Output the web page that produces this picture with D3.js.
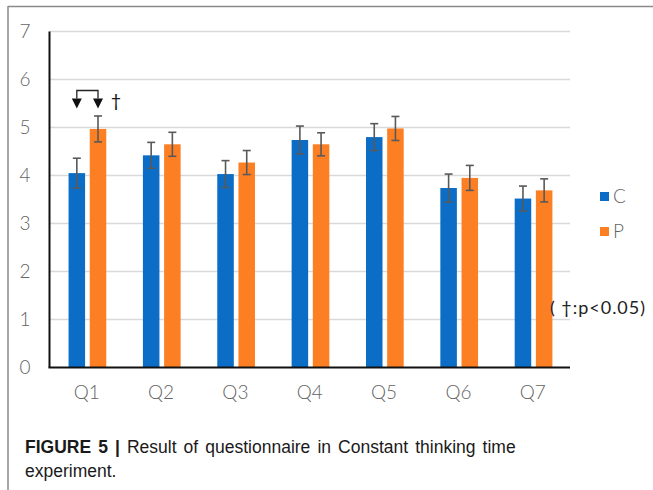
<!DOCTYPE html>
<html>
<head>
<meta charset="utf-8">
<script src="https://cdn.jsdelivr.net/npm/d3@7"></script>
<style>
  html, body { margin: 0; padding: 0; background: #fff; }
  svg { display: block; }
</style>
</head>
<body>
<svg id="chart" width="653" height="490"></svg>
<script>
// Questionnaire items and group means with error margins
const questions = ["Q1", "Q2", "Q3", "Q4", "Q5", "Q6", "Q7"];
const groups = ["C", "P"];
const meanC = [4.05, 4.42, 4.03, 4.74, 4.80, 3.74, 3.52];
const meanP = [4.97, 4.65, 4.27, 4.65, 4.98, 3.95, 3.69];
const errC = [0.31, 0.27, 0.28, 0.29, 0.28, 0.29, 0.26];
const errP = [0.27, 0.25, 0.25, 0.24, 0.25, 0.26, 0.24];
const yTicks = [0, 1, 2, 3, 4, 5, 6, 7];
const significant = ["Q1"];

const colors = { C: "#0b6dc6", P: "#fd7f24" };
const tickFont = "Lato, 'Noto Sans', sans-serif";

const svg = d3.select("#chart");

// Figure frame
svg.append("line").attr("x1", 8).attr("x2", 653).attr("y1", 6.5).attr("y2", 6.5)
  .attr("stroke", "#8a8a8a").attr("stroke-width", 1.5);
svg.append("line").attr("x1", 8).attr("x2", 8).attr("y1", 6).attr("y2", 490)
  .attr("stroke", "#8a8a8a").attr("stroke-width", 1.5);

const plotLeft = 49.5, plotRight = 570, plotTop = 31.5, plotBottom = 367.5;

const x = d3.scaleBand().domain(questions).range([plotLeft, plotRight]).padding(0);
const xg = d3.scaleBand().domain(groups).range([0, x.bandwidth()])
  .paddingInner(0.22).paddingOuter(0.865).align(0.52);
const y = d3.scaleLinear().domain([0, 7]).range([plotBottom, plotTop]);

// Gridlines
svg.append("g").selectAll("line").data(yTicks.filter(t => t > 0)).join("line")
  .attr("x1", plotLeft).attr("x2", plotRight)
  .attr("y1", d => y(d)).attr("y2", d => y(d))
  .attr("stroke", "#d9d9d9").attr("stroke-width", 1.5);

// Y axis labels
const yAxis = d3.axisLeft(y).tickValues(yTicks).tickFormat(d3.format("d"))
  .tickSize(0).tickPadding(19);
const gy = svg.append("g").attr("transform", `translate(${plotLeft},0)`).call(yAxis);
gy.select(".domain").remove();
gy.selectAll("text").attr("font-family", tickFont).attr("font-weight", 300)
  .attr("font-size", 19).attr("fill", "#646464");

// Bars
const rows = questions.map((q, i) => [
  { q, g: "C", v: meanC[i], e: errC[i] },
  { q, g: "P", v: meanP[i], e: errP[i] }
]).flat();

svg.append("g").selectAll("rect").data(rows).join("rect")
  .attr("x", d => x(d.q) + xg(d.g))
  .attr("width", xg.bandwidth())
  .attr("y", d => y(d.v))
  .attr("height", d => y(0) - y(d.v))
  .attr("fill", d => colors[d.g]);

// Error bars
const eb = svg.append("g").attr("stroke", "#595959").attr("stroke-width", 1.6);
rows.forEach(d => {
  const cx = x(d.q) + xg(d.g) + xg.bandwidth() / 2;
  eb.append("line").attr("x1", cx).attr("x2", cx)
    .attr("y1", y(d.v + d.e)).attr("y2", y(d.v - d.e));
  [d.v + d.e, d.v - d.e].forEach(v => {
    eb.append("line").attr("x1", cx - 4).attr("x2", cx + 4)
      .attr("y1", y(v)).attr("y2", y(v));
  });
});

// Axis lines
svg.append("line").attr("x1", plotLeft).attr("x2", plotLeft).attr("y1", plotTop).attr("y2", plotBottom)
  .attr("stroke", "#111").attr("stroke-width", 2);
svg.append("line").attr("x1", plotLeft - 1).attr("x2", plotRight).attr("y1", plotBottom).attr("y2", plotBottom)
  .attr("stroke", "#111").attr("stroke-width", 2);

// X axis labels
const xAxis = d3.axisBottom(x).tickSize(0).tickPadding(18);
const gx = svg.append("g").attr("transform", `translate(0,${plotBottom})`).call(xAxis);
gx.select(".domain").remove();
gx.selectAll("text").attr("font-family", tickFont).attr("font-weight", 300)
  .attr("font-size", 19).attr("fill", "#646464");

// Significance marker between the two bars of a question
significant.forEach(q => {
  const cxC = x(q) + xg("C") + xg.bandwidth() / 2;
  const cxP = x(q) + xg("P") + xg.bandwidth() / 2;
  const yLine = 90.5, yTip = 108.5, triTop = 98.5, half = 5;
  const g = svg.append("g");
  g.append("path")
    .attr("d", `M${cxC},${triTop}V${yLine}H${cxP}V${triTop}`)
    .attr("fill", "none").attr("stroke", "#222").attr("stroke-width", 1.3);
  [cxC, cxP].forEach(cx => {
    g.append("path")
      .attr("d", `M${cx - half},${triTop}L${cx + half},${triTop}L${cx},${yTip}Z`)
      .attr("fill", "#111");
  });
  g.append("text").attr("x", cxP + 18).attr("y", 107)
    .attr("text-anchor", "middle").attr("font-family", tickFont)
    .attr("font-size", 18).attr("fill", "#111").text("†");
});

// Legend
const legend = svg.append("g");
groups.forEach((grp, i) => {
  const ly = 196.5 + i * 35;
  legend.append("rect").attr("x", 600).attr("y", ly - 4.5).attr("width", 9).attr("height", 9)
    .attr("fill", colors[grp]);
  legend.append("text").attr("x", 613).attr("y", ly).attr("dy", "0.36em")
    .attr("font-family", tickFont).attr("font-weight", 300).attr("font-size", 19)
    .attr("fill", "#646464").text(grp);
});

// Significance note
svg.append("text").attr("x", 550).attr("y", 308).attr("dy", "0.35em")
  .attr("font-family", tickFont).attr("font-size", 18).attr("fill", "#222")
  .attr("textLength", 95).attr("lengthAdjust", "spacing")
  .text("( \u2020:p<0.05)");

// Caption (first line set justified, last line ragged)
const cap = svg.append("text").attr("x", 25).attr("y", 453)
  .attr("font-family", "'Liberation Sans', Arial, sans-serif").attr("font-size", 17.5)
  .attr("word-spacing", 2.2).attr("fill", "#1a1a1a");
cap.append("tspan").attr("font-weight", "bold").text("FIGURE 5 |");
cap.append("tspan").text(" Result of questionnaire in Constant thinking time");
svg.append("text").attr("x", 25).attr("y", 477)
  .attr("font-family", "'Liberation Sans', Arial, sans-serif").attr("font-size", 17.5)
  .attr("fill", "#1a1a1a").text("experiment.");
</script>
</body>
</html>
